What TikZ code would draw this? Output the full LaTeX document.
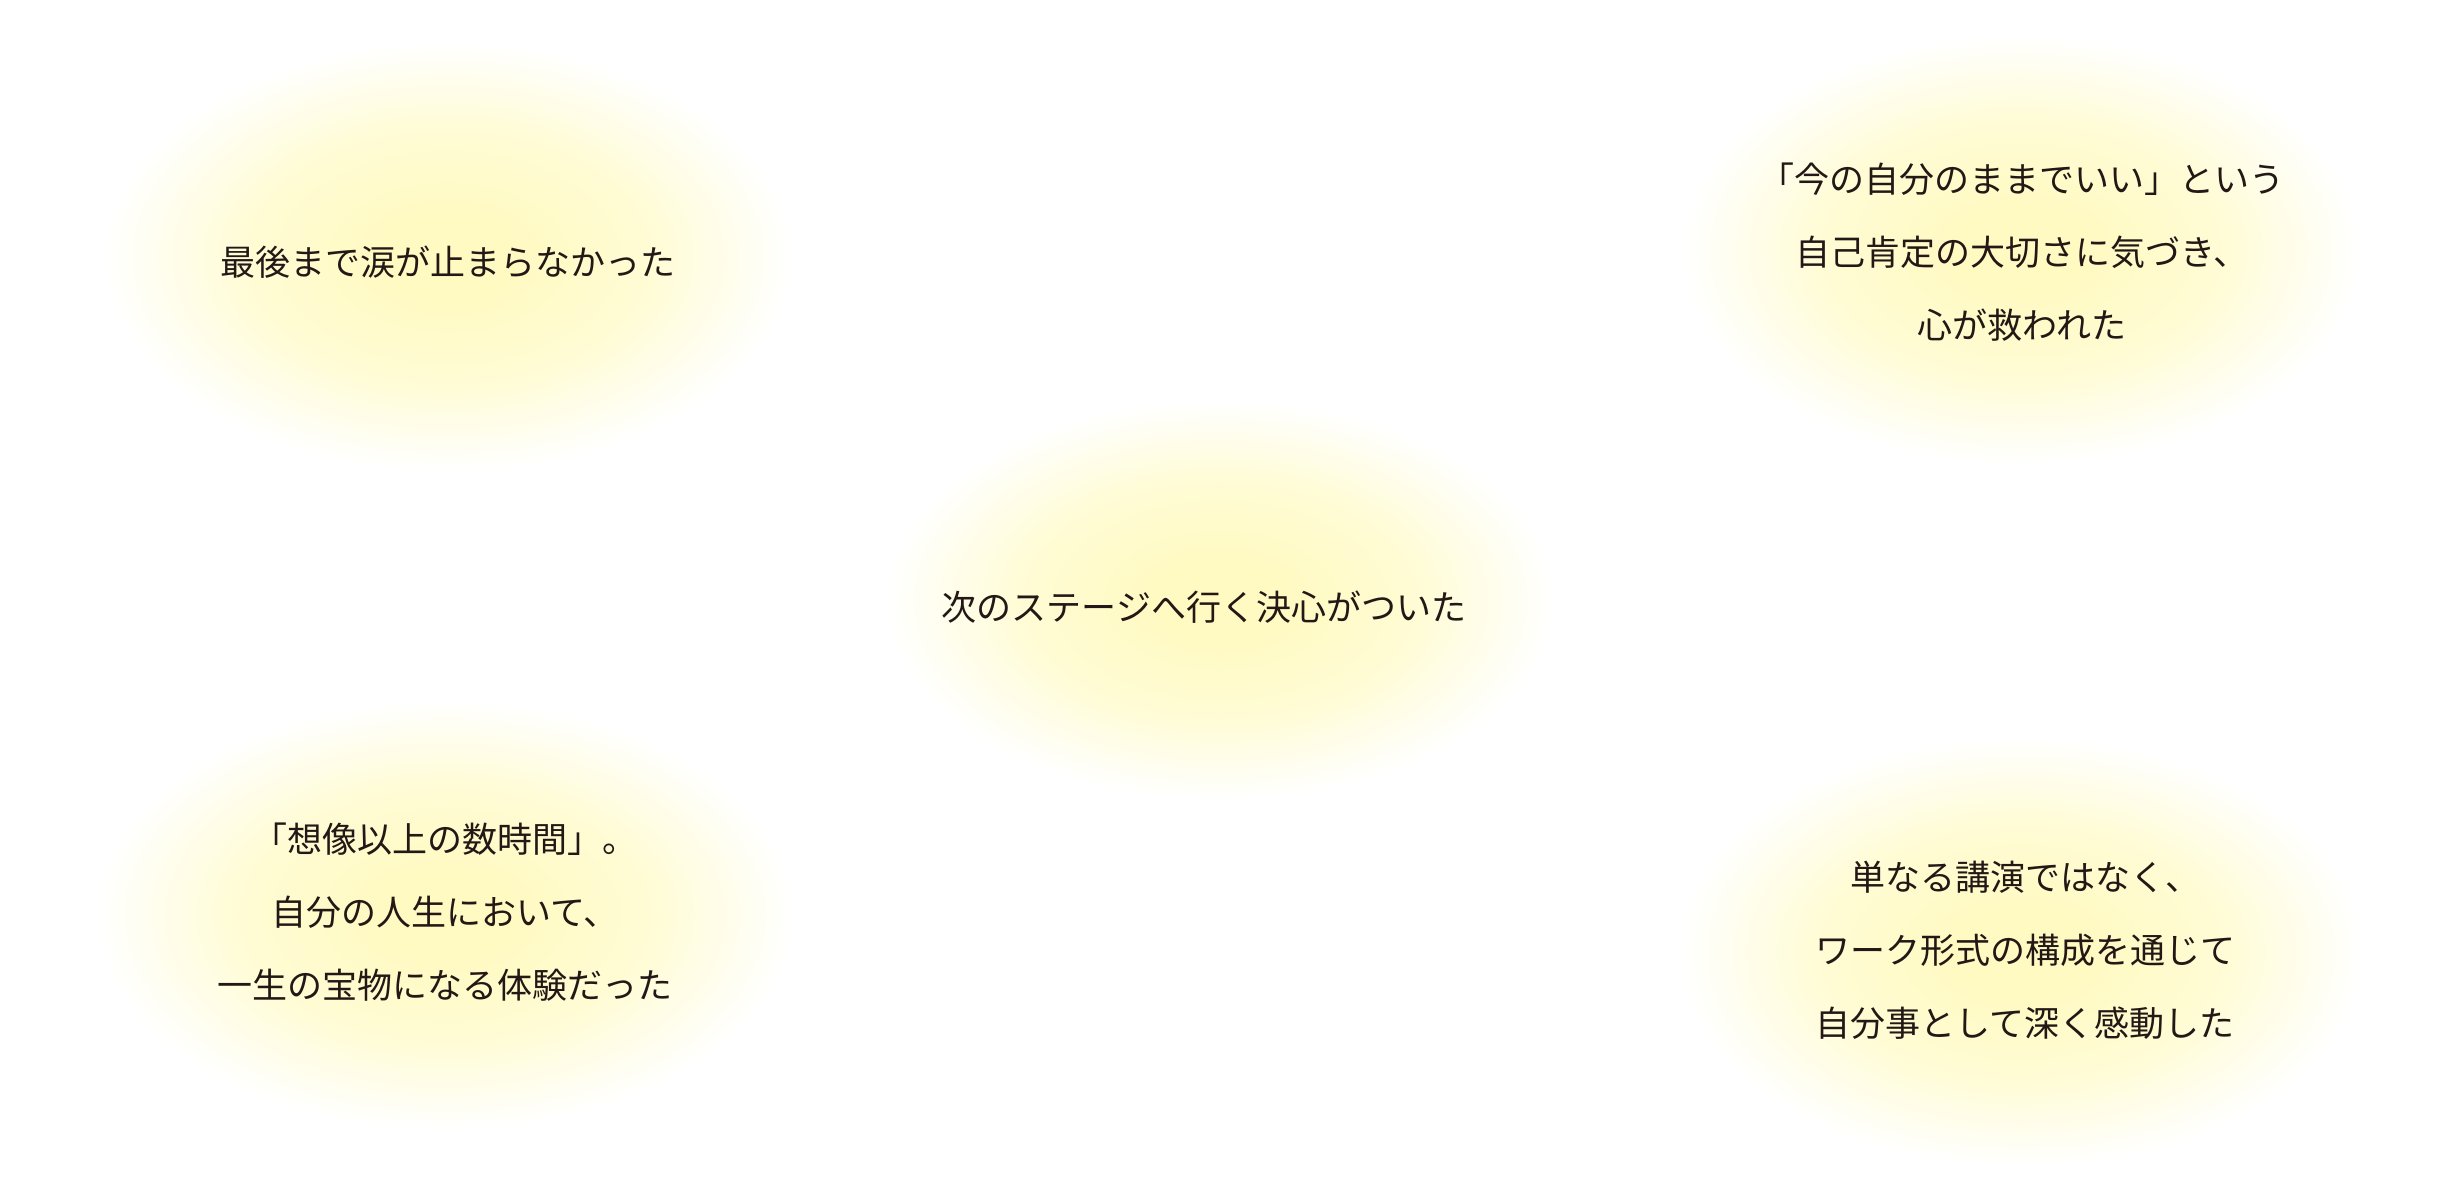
\documentclass[tikz,border=0pt]{standalone}
\usepackage{fontspec}
\setmainfont{Noto Sans CJK JP}
\definecolor{glowcore}{HTML}{FFFAC2}
\definecolor{glowmid}{HTML}{FFFCD6}
\definecolor{ink}{HTML}{231815}
\pgfdeclareradialshading{glow}{\pgfpoint{0bp}{0bp}}{color(0bp)=(glowcore); color(5bp)=(glowcore); color(15bp)=(glowmid); color(25bp)=(white); color(50bp)=(white)}
\tikzset{
  halo/.style={shading=glow},
  msg/.style={text=ink, align=center, font=\fontsize{17.5}{36.5}\selectfont}
}
\begin{document}
\begin{tikzpicture}[x=0.5pt, y=-0.5pt]
  \useasboundingbox (0,0) rectangle (2444,1192);

  \shade [halo] (448,257)  ellipse [x radius=345, y radius=215];
  \shade [halo] (2021,250) ellipse [x radius=340, y radius=215];
  \shade [halo] (1220,600) ellipse [x radius=335, y radius=200];
  \shade [halo] (445,915)  ellipse [x radius=350, y radius=215];
  \shade [halo] (2021,952) ellipse [x radius=343, y radius=215];

  \node [msg] (tears)  at (448,262)  {最後まで涙が止まらなかった};
  \node [msg] (self)   at (2022,252) {「今の自分のままでいい」という\\自己肯定の大切さに気づき、\\心が救われた};
  \node [msg] (next)   at (1204,607) {次のステージへ行く決心がついた};
  \node [msg] (hours)  at (445,912)  {「想像以上の数時間」。\\自分の人生において、\\一生の宝物になる体験だった};
  \node [msg] (work)   at (2025,950) {単なる講演ではなく、\\ワーク形式の構成を通じて\\自分事として深く感動した};
\end{tikzpicture}
\end{document}
